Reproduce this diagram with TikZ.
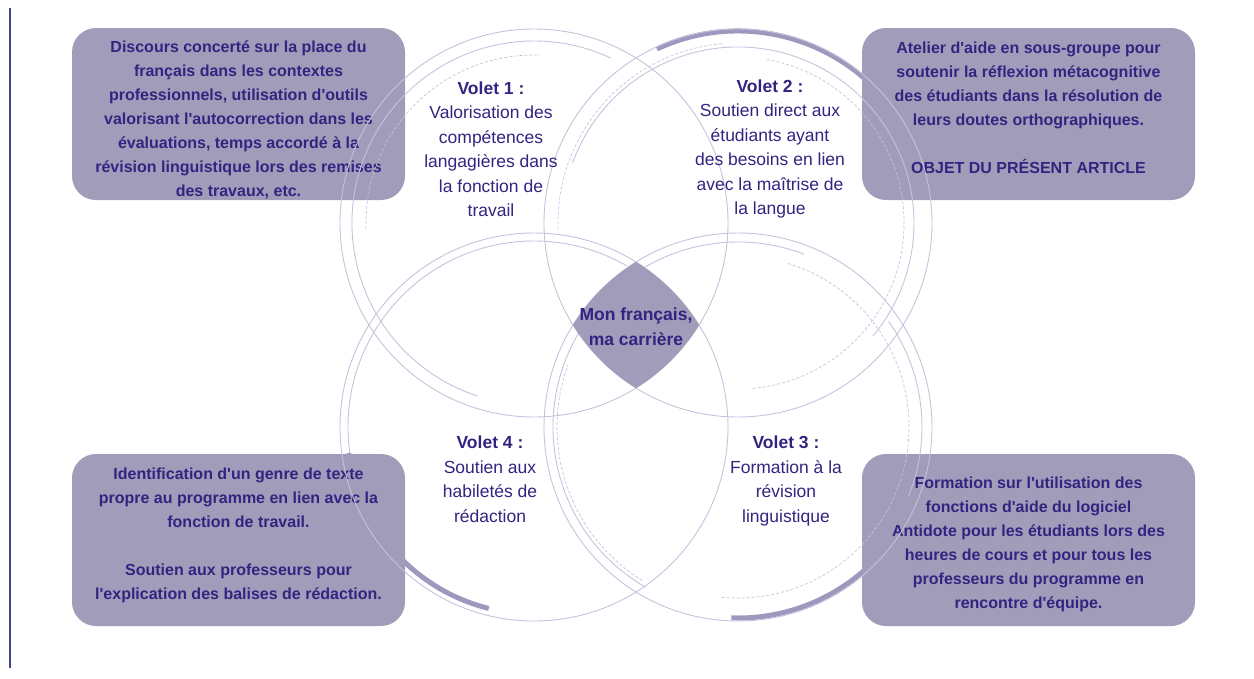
\documentclass[tikz,border=0pt]{standalone}
\usepackage{fontspec}
\setmainfont{Liberation Sans}
\usetikzlibrary{positioning}

\definecolor{boxfill}{RGB}{160,156,186}
\definecolor{ink}{RGB}{50,36,128}
\definecolor{ringcol}{RGB}{198,194,220}
\definecolor{thickcol}{RGB}{158,152,190}
\definecolor{rulecol}{RGB}{59,72,138}
\newcommand{\ap}{\textquotesingle}

\begin{document}
\begin{tikzpicture}[x=1pt, y=-1pt,
	box/.style = {fill=boxfill, rounded corners=24pt, minimum width=333pt, minimum height=172pt, inner sep=0pt},
	boxtext/.style = {text=ink, align=center, inner sep=0pt, font=\fontsize{16}{24}\selectfont\bfseries},
	volet/.style = {text=ink, align=center, font=\fontsize{17.5}{24.5}\selectfont},
	ring/.style = {draw=ringcol, line width=0.9pt},
	dashring/.style = {draw=ringcol, line width=0.7pt, dash pattern=on 3pt off 2pt},
	thickring/.style = {draw=thickcol, line width=5pt}
	]
	\useasboundingbox (0,0) rectangle (1254,678);
	\draw[rulecol, line width=1.6pt] (10,8) -- (10,668);

	% centres of the four circles
	\coordinate (c1) at (534,223);
	\coordinate (c2) at (738,223);
	\coordinate (c3) at (738,427);
	\coordinate (c4) at (534,427);

	% thick arcs (behind the boxes)
	\draw[thickring] (c2) ++(245:192) arc[start angle=245, end angle=335, radius=192];
	\draw[thickring] (c3) ++(20:191) arc[start angle=20, end angle=92, radius=191];
	\draw[thickring] (c4) ++(104:187) arc[start angle=104, end angle=172, radius=187];

	% boxes
	\node[box] (b1) at (238.5,114) {};
	\node[box] (b2) at (1028.5,114) {};
	\node[box] (b4) at (238.5,540) {};
	\node[box] (b3) at (1028.5,540) {};
	\node[boxtext, yshift=-6pt] (t1) at (b1) {Discours concerté sur la place du\\français dans les contextes\\professionnels, utilisation d\ap outils\\valorisant l\ap autocorrection dans les\\évaluations, temps accordé à la\\révision linguistique lors des remises\\des travaux, etc.};
	\node[boxtext, yshift=-9pt] (t2) at (b2) {Atelier d\ap aide en sous-groupe pour\\soutenir la réflexion métacognitive\\des étudiants dans la résolution de\\leurs doutes orthographiques.\\[24pt]OBJET DU PRÉSENT ARTICLE\\[6pt]};
	\node[boxtext, yshift=-10pt] (t4) at (b4) {Identification d\ap un genre de texte\\propre au programme en lien avec la\\fonction de travail.\\[24pt]Soutien aux professeurs pour\\l\ap explication des balises de rédaction.\\[8pt]};
	\node[boxtext, yshift=-4pt] (t3) at (b3) {Formation sur l\ap utilisation des\\fonctions d\ap aide du logiciel\\Antidote pour les étudiants lors des\\heures de cours et pour tous les\\professeurs du programme en\\rencontre d\ap équipe.};

	% thin rings
	\foreach \c in {c1,c2,c3,c4}
		\draw[ring] (\c) circle[radius=194];
	\draw[ring] (c1) ++(108:182) arc[start angle=108, end angle=295, radius=182];
	\draw[dashring] (c1) ++(178:168) arc[start angle=178, end angle=272, radius=168];
	\draw[ring] (c2) ++(200:176) arc[start angle=200, end angle=400, radius=176];
	\draw[dashring] (c2) ++(178:180) arc[start angle=178, end angle=265, radius=180];
	\draw[dashring] (c2) ++(280:166) arc[start angle=280, end angle=445, radius=166];
	\draw[ring] (c3) ++(120:185) arc[start angle=120, end angle=291, radius=185];
	\draw[ring] (c3) ++(-35:184) arc[start angle=-35, end angle=22, radius=184];
	\draw[dashring] (c3) ++(-73:171) arc[start angle=-73, end angle=96, radius=171];
	\draw[dashring] (c3) ++(122:181) arc[start angle=122, end angle=200, radius=181];
	\draw[ring] (c4) ++(172:186) arc[start angle=172, end angle=300, radius=186];

	% centre lens
	\begin{scope}
		\clip (c1) circle[radius=194];
		\clip (c2) circle[radius=194];
		\clip (c3) circle[radius=194];
		\fill[boxfill] (c4) circle[radius=194];
	\end{scope}
	\node[text=ink, align=center, font=\fontsize{17.5}{25}\selectfont\bfseries] (centre) at (636,327) {Mon français,\\ma carrière};

	% volets
	\node[volet] (v1) at (491,149) {\textbf{Volet 1 :}\\Valorisation des\\compétences\\langagières dans\\la fonction de\\travail};
	\node[volet] (v2) at (770,149) {\textbf{Volet 2 :}\\Soutien direct aux\\étudiants ayant\\des besoins en lien\\avec la maîtrise de\\la langue};
	\node[volet] (v3) at (786,481) {\textbf{Volet 3 :}\\Formation à la\\révision\\linguistique};
	\node[volet] (v4) at (490,479) {\textbf{Volet 4 :}\\Soutien aux\\habiletés de\\rédaction};
\end{tikzpicture}
\end{document}
